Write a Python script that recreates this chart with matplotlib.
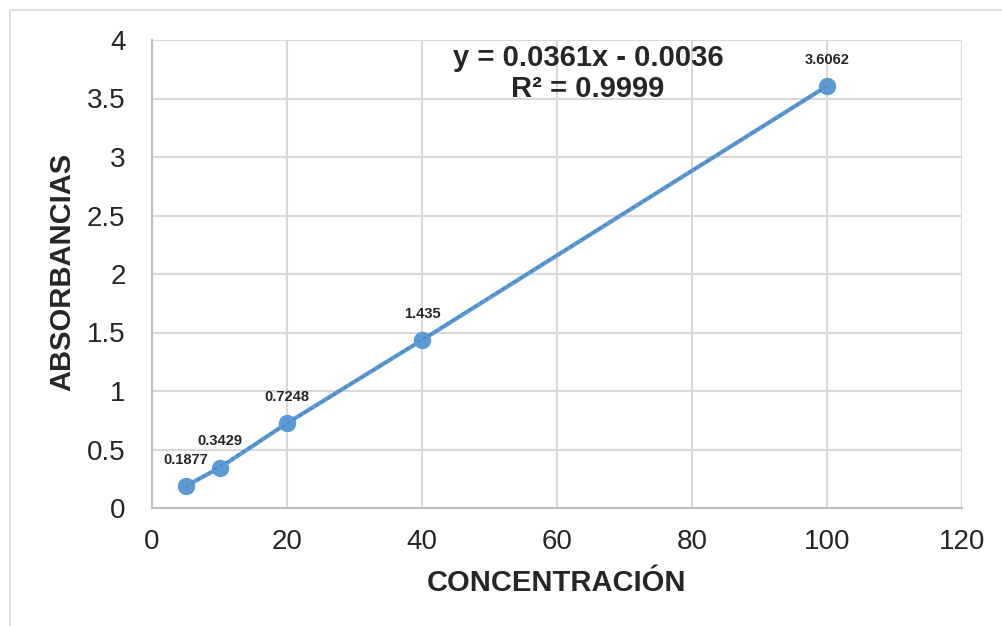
import matplotlib
matplotlib.use("Agg")
import matplotlib.pyplot as plt
from matplotlib.patches import Rectangle
import numpy as np

plt.rcParams['font.family'] = ['Liberation Sans', 'DejaVu Sans']

concentracion = [5, 10, 20, 40, 100]
absorbancias = [0.1877, 0.3429, 0.7248, 1.435, 3.6062]
labels = ["0.1877", "0.3429", "0.7248", "1.435", "3.6062"]
xticks = [0, 20, 40, 60, 80, 100, 120]
yticks = [0, 0.5, 1, 1.5, 2, 2.5, 3, 3.5, 4]
ytick_labels = ["0", "0.5", "1", "1.5", "2", "2.5", "3", "3.5", "4"]
slope, intercept = 0.0361, -0.0036

W, H = 1002, 626
fig = plt.figure(figsize=(W / 100, H / 100), dpi=100)
ax = fig.add_axes([152 / W, 1 - 508 / H, (962 - 152) / W, (508 - 40) / H])

blue = '#5B9BD5'
ax.plot(concentracion, absorbancias, color=blue, lw=3, marker='o', ms=11.5,
        zorder=3, solid_capstyle='round')
xt = np.array([concentracion[0], concentracion[-1]])
ax.plot(xt, slope * xt + intercept, color='#4A86C0', lw=1.2, ls=(0, (2, 2)), zorder=4)

for x, y, t in zip(concentracion, absorbancias, labels):
    ax.annotate(t, (x, y), xytext=(0, 14), textcoords='offset points',
                ha='center', va='bottom', fontsize=10.5, fontweight='bold', color='#262626')

ax.set_xlim(0, 120)
ax.set_ylim(0, 4)
ax.set_xticks(xticks)
ax.set_yticks(yticks)
ax.set_yticklabels(ytick_labels)
ax.grid(True, color='#D9D9D9', lw=1.5)
ax.set_axisbelow(True)
ax.tick_params(length=0, labelsize=20, colors='#262626')
ax.tick_params(axis='y', pad=19)
ax.tick_params(axis='x', pad=15)
for s in ['top', 'right']:
    ax.spines[s].set_visible(False)
for s in ['left', 'bottom']:
    ax.spines[s].set_color('#BFBFBF')
    ax.spines[s].set_linewidth(1.5)

fig.text(62 / W, 1 - 272 / H, "ABSORBANCIAS", rotation=90, ha='center', va='center',
         fontsize=21, fontweight='bold', color='#262626')
fig.text(557 / W, 1 - 583 / H, "CONCENTRACIÓN", ha='center', va='center',
         fontsize=21, fontweight='bold', color='#262626')
fig.text(588 / W, 1 - 58 / H, "y = 0.0361x - 0.0036", ha='center', va='center',
         fontsize=21, fontweight='bold', color='#262626')
fig.text(588 / W, 1 - 89 / H, "R² = 0.9999", ha='center', va='center',
         fontsize=21, fontweight='bold', color='#262626')

fig.patches.append(Rectangle((10 / W, -0.05), 1.1, 1 - 10 / H + 0.05, transform=fig.transFigure,
                             fill=False, edgecolor='#D9D9D9', lw=1.2))

fig.savefig("out.png", dpi=100)
